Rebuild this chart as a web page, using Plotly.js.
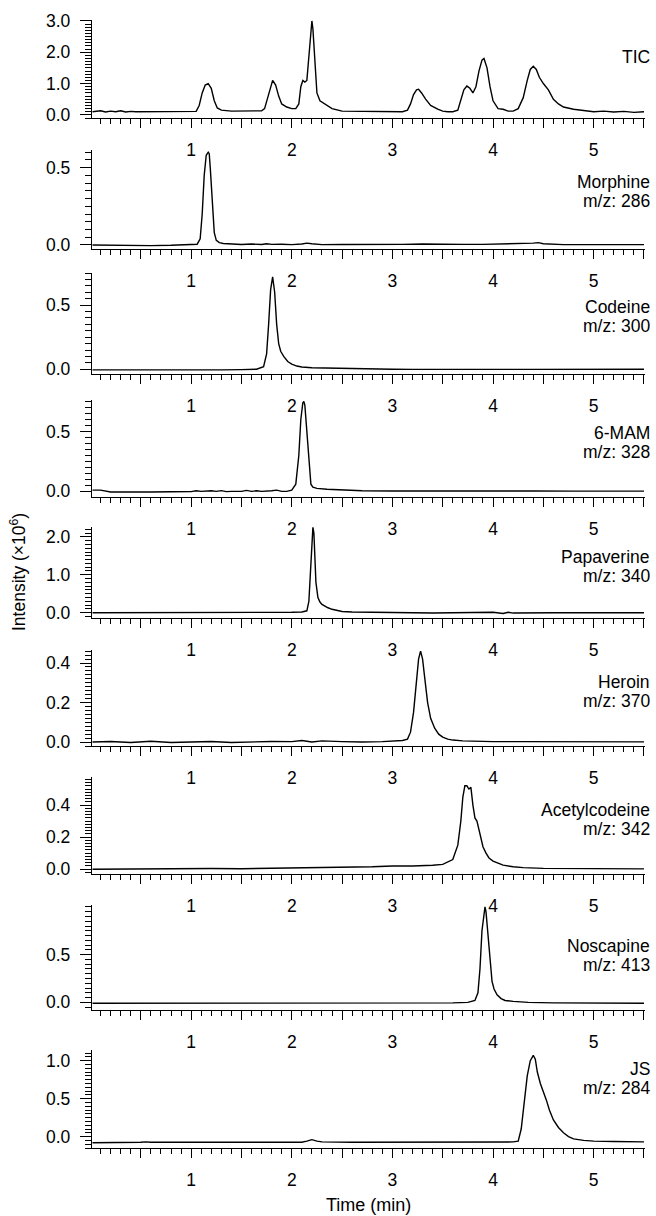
<!DOCTYPE html>
<html>
<head>
<meta charset="utf-8">
<script src="https://cdn.plot.ly/plotly-3.0.1.min.js"></script>
<style>
  html, body { margin: 0; padding: 0; background: #fff; }
  #chart { width: 656px; height: 1216px; }
</style>
</head>
<body>
<div id="chart"></div>
<script>
// Compound labels and monitored ions, top to bottom
const compounds = ["TIC", "Morphine", "Codeine", "6-MAM", "Papaverine", "Heroin", "Acetylcodeine", "Noscapine", "JS"];
const ions = ["", "m/z: 286", "m/z: 300", "m/z: 328", "m/z: 340", "m/z: 370", "m/z: 342", "m/z: 413", "m/z: 284"];

// Retention time (min) and intensity (x10^6) for each trace
const ticTime = [0.02,0.1,0.15,0.2,0.25,0.3,0.35,0.4,0.45,0.5,0.55,0.6,0.7,0.8,0.9,1.0,1.05,1.08,1.11,1.14,1.17,1.2,1.23,1.26,1.3,1.4,1.5,1.6,1.7,1.73,1.76,1.79,1.81,1.84,1.87,1.9,1.95,2.0,2.04,2.07,2.09,2.11,2.13,2.15,2.17,2.19,2.2,2.21,2.23,2.25,2.28,2.33,2.4,2.5,2.6,2.7,2.8,2.9,3.0,3.1,3.15,3.18,3.21,3.24,3.26,3.29,3.33,3.38,3.45,3.5,3.55,3.6,3.65,3.68,3.71,3.74,3.77,3.8,3.83,3.86,3.89,3.91,3.94,3.97,4.0,4.05,4.1,4.15,4.2,4.25,4.3,4.34,4.37,4.4,4.43,4.46,4.5,4.55,4.6,4.65,4.7,4.8,4.9,5.0,5.1,5.2,5.3,5.4,5.5];
const ticInt = [0.1,0.13,0.09,0.12,0.1,0.13,0.09,0.11,0.1,0.1,0.12,0.1,0.11,0.1,0.11,0.1,0.11,0.3,0.7,0.95,1.0,0.85,0.45,0.22,0.15,0.12,0.12,0.11,0.13,0.2,0.55,0.95,1.1,0.95,0.6,0.35,0.25,0.2,0.2,0.35,0.9,1.1,1.05,1.1,1.8,2.7,3.0,2.75,1.5,0.7,0.45,0.35,0.2,0.12,0.12,0.1,0.11,0.1,0.12,0.1,0.15,0.35,0.65,0.8,0.82,0.7,0.5,0.3,0.18,0.12,0.1,0.1,0.15,0.45,0.8,0.92,0.85,0.7,0.9,1.4,1.75,1.8,1.5,0.9,0.45,0.2,0.18,0.12,0.12,0.2,0.55,1.1,1.45,1.55,1.45,1.2,1.0,0.8,0.5,0.35,0.25,0.18,0.13,0.1,0.12,0.09,0.11,0.08,0.1];

const morTime = [0.02,0.2,0.4,0.6,0.8,1.0,1.06,1.09,1.11,1.13,1.15,1.17,1.18,1.19,1.21,1.23,1.25,1.28,1.32,1.4,1.5,1.6,1.7,1.75,1.8,1.9,2.0,2.1,2.15,2.2,2.3,2.5,2.7,2.9,3.1,3.3,3.5,3.7,3.9,4.1,4.3,4.4,4.45,4.5,4.7,5.0,5.5];
const morInt = [0.0,-0.002,-0.004,-0.004,-0.002,0.0,0.005,0.04,0.2,0.45,0.58,0.6,0.59,0.5,0.25,0.08,0.03,0.015,0.01,0.005,0.003,0.006,0.003,0.008,0.004,0.005,0.002,0.006,0.012,0.008,0.002,0.003,0.002,0.004,0.004,0.006,0.003,0.004,0.004,0.006,0.01,0.012,0.015,0.008,0.002,0.002,0.002];

const codTime = [0.02,0.3,0.6,0.9,1.1,1.3,1.5,1.65,1.72,1.75,1.77,1.79,1.81,1.83,1.85,1.87,1.89,1.92,1.96,2.0,2.05,2.1,2.2,2.4,2.6,2.8,3.0,3.2,3.4,3.6,3.8,4.0,4.2,4.4,4.6,4.8,5.0,5.2,5.5];
const codInt = [-0.005,-0.006,-0.004,-0.006,-0.004,-0.005,-0.003,0.0,0.02,0.12,0.35,0.62,0.72,0.6,0.35,0.2,0.14,0.1,0.06,0.04,0.025,0.018,0.012,0.008,0.005,0.002,0.0,-0.001,0.0,0.0,-0.002,0.0,-0.001,-0.001,0.0,-0.001,0.0,-0.001,0.0];

const mamTime = [0.02,0.1,0.2,0.4,0.6,0.8,1.0,1.05,1.1,1.2,1.25,1.3,1.35,1.4,1.5,1.55,1.6,1.65,1.7,1.8,1.85,1.9,1.95,2.0,2.04,2.07,2.09,2.11,2.12,2.13,2.15,2.17,2.19,2.21,2.25,2.35,2.5,2.7,3.0,3.3,3.6,4.0,4.4,4.8,5.2,5.5];
const mamInt = [0.01,0.01,-0.005,-0.008,-0.005,-0.003,-0.002,0.005,0.0,0.005,0.0,0.006,-0.002,0.0,0.0,0.008,0.0,0.005,0.0,0.005,0.01,0.0,0.0,0.01,0.06,0.3,0.6,0.74,0.75,0.72,0.5,0.2,0.06,0.035,0.025,0.018,0.01,0.005,0.003,0.004,0.002,0.004,0.003,0.002,0.001,0.002];

const papTime = [0.02,0.3,0.6,0.9,1.2,1.5,1.8,2.0,2.1,2.15,2.17,2.19,2.2,2.21,2.22,2.23,2.24,2.26,2.28,2.3,2.33,2.36,2.4,2.45,2.5,2.6,2.8,3.0,3.2,3.4,3.6,3.8,4.0,4.1,4.15,4.2,4.4,4.6,5.0,5.5];
const papInt = [0.0,0.0,0.0,0.005,0.0,0.0,0.01,0.01,0.02,0.05,0.3,1.2,1.9,2.25,2.1,1.5,0.8,0.4,0.28,0.22,0.17,0.13,0.09,0.05,0.03,0.02,0.01,0.0,0.0,-0.01,0.0,0.0,0.01,-0.02,0.01,-0.01,0.0,0.0,0.0,0.0];

const herTime = [0.02,0.2,0.4,0.6,0.8,1.0,1.2,1.4,1.6,1.8,2.0,2.1,2.2,2.3,2.5,2.7,2.9,3.0,3.1,3.15,3.18,3.21,3.24,3.26,3.28,3.3,3.32,3.35,3.38,3.42,3.46,3.5,3.55,3.6,3.7,3.8,4.0,4.3,4.6,5.0,5.3,5.5];
const herInt = [0.0,0.003,-0.002,0.004,-0.002,0.002,0.003,-0.002,0.002,0.003,0.002,0.008,0.0,0.006,0.002,0.0,0.002,0.004,0.008,0.015,0.05,0.15,0.32,0.42,0.46,0.42,0.33,0.2,0.12,0.07,0.04,0.025,0.015,0.01,0.006,0.004,0.002,0.002,0.001,0.001,0.001,0.001];

const aceTime = [0.02,0.3,0.6,0.9,1.2,1.5,1.8,2.0,2.2,2.5,2.8,3.0,3.2,3.4,3.5,3.6,3.65,3.68,3.7,3.72,3.74,3.76,3.78,3.8,3.82,3.84,3.86,3.88,3.9,3.93,3.96,4.0,4.05,4.1,4.2,4.3,4.5,4.8,5.1,5.5];
const aceInt = [0.0,0.002,0.0,0.002,0.004,0.003,0.005,0.008,0.01,0.012,0.015,0.02,0.02,0.025,0.03,0.06,0.15,0.3,0.45,0.52,0.52,0.5,0.51,0.4,0.32,0.3,0.24,0.18,0.14,0.1,0.07,0.05,0.035,0.025,0.015,0.01,0.005,0.003,0.002,0.002];

const nosTime = [0.02,0.3,0.6,0.9,1.2,1.5,1.8,2.1,2.4,2.7,3.0,3.3,3.6,3.75,3.82,3.85,3.87,3.89,3.91,3.92,3.93,3.95,3.97,3.99,4.01,4.04,4.08,4.12,4.2,4.35,4.6,5.0,5.5];
const nosInt = [-0.01,-0.01,-0.01,-0.01,-0.01,-0.01,-0.01,-0.01,-0.01,-0.01,-0.01,-0.01,-0.005,0.0,0.02,0.1,0.35,0.75,0.97,1.0,0.95,0.7,0.4,0.22,0.14,0.08,0.04,0.02,0.01,0.0,-0.005,-0.008,-0.01];

const jsTime = [0.02,0.3,0.5,0.55,0.6,0.8,1.0,1.25,1.3,1.35,1.6,1.9,2.1,2.15,2.2,2.25,2.3,2.6,3.0,3.5,4.0,4.15,4.2,4.25,4.28,4.31,4.34,4.37,4.4,4.42,4.44,4.47,4.5,4.53,4.56,4.6,4.65,4.7,4.75,4.8,4.9,5.0,5.2,5.5];
const jsInt = [-0.08,-0.08,-0.075,-0.07,-0.075,-0.075,-0.075,-0.075,-0.07,-0.075,-0.075,-0.075,-0.075,-0.06,-0.04,-0.06,-0.07,-0.075,-0.075,-0.075,-0.075,-0.07,-0.07,-0.06,0.1,0.45,0.8,1.0,1.07,1.02,0.85,0.7,0.6,0.48,0.35,0.22,0.12,0.05,0.0,-0.03,-0.05,-0.06,-0.065,-0.07];

const times = [ticTime, morTime, codTime, mamTime, papTime, herTime, aceTime, nosTime, jsTime];
const intensities = [ticInt, morInt, codInt, mamInt, papInt, herInt, aceInt, nosInt, jsInt];

// Axis tick labels
const yTickVals = [[0,1,2,3],[0,0.5],[0,0.5],[0,0.5],[0,1,2],[0,0.2,0.4],[0,0.2,0.4],[0,0.5],[0,0.5,1]];
const yMinorStep = [0.1,0.05,0.05,0.05,0.1,0.02,0.02,0.05,0.05];
const xTickVals = [0.5,1,1.5,2,2.5,3,3.5,4,4.5,5,5.5];
const xTickText = ["","1","","2","","3","","4","","5",""];

// Panel geometry in pixels (top of y axis, x-axis line) and value ranges
const W = 656, H = 1216;
const panelTop =    [20, 150, 273, 400, 527, 650, 777, 905, 1050];
const panelBottom = [118, 249, 374, 497, 618, 746, 874, 1010, 1148];
const yRanges = [[-0.1,3.03],[-0.026,0.614],[-0.037,0.75],[-0.047,0.763],[-0.14,2.26],[-0.02,0.466],[-0.03,0.575],[-0.08,1.02],[-0.15,1.14]];
const labelCenter = [57, 191, 316, 442, 566, 691, 819, 955, 1078];

const FONT = "Liberation Sans, Arial, Helvetica, sans-serif";
const FS = 17.5;
const xDomain = [92 / W, 645 / W];

const traces = [];
const layout = {
  width: W, height: H,
  margin: {l: 0, r: 0, t: 0, b: 0},
  paper_bgcolor: "#ffffff",
  plot_bgcolor: "rgba(0,0,0,0)",
  showlegend: false,
  font: {family: FONT, size: FS, color: "#000"},
  annotations: []
};

compounds.forEach((name, i) => {
  const k = i === 0 ? "" : String(i + 1);
  traces.push({
    type: "scatter", mode: "lines",
    x: times[i], y: intensities[i],
    xaxis: "x" + k, yaxis: "y" + k,
    line: {color: "#000", width: 1.4},
    hoverinfo: "skip"
  });
  layout["xaxis" + k] = {
    domain: xDomain, anchor: "y" + k,
    range: [0.015, 5.51],
    showgrid: false, zeroline: false,
    showline: true, linecolor: "#000", linewidth: 1.2,
    ticks: "outside", ticklen: 9, tickwidth: 1, tickcolor: "#000",
    tickmode: "array", tickvals: xTickVals, ticktext: xTickText,
    ticklabelstandoff: 7,
    tickfont: {family: FONT, size: FS, color: "#000"},
    minor: {ticks: "outside", ticklen: 5, tickwidth: 1, tickcolor: "#000", tickmode: "linear", tick0: 0, dtick: 0.1, showgrid: false}
  };
  layout["yaxis" + k] = {
    domain: [1 - panelBottom[i] / H, 1 - panelTop[i] / H],
    anchor: "x" + k,
    range: yRanges[i],
    showgrid: false, zeroline: false,
    showline: true, linecolor: "#000", linewidth: 1.2,
    ticks: "outside", ticklen: 11, tickwidth: 1, tickcolor: "#000",
    tickmode: "array", tickvals: yTickVals[i], tickformat: ".1f",
    ticklabelstandoff: 6,
    tickfont: {family: FONT, size: FS, color: "#000"},
    minor: {ticks: "outside", ticklen: 6, tickwidth: 1, tickcolor: "#000", tickmode: "linear", tick0: 0, dtick: yMinorStep[i], showgrid: false}
  };
  const base = {xref: "paper", yref: "paper", x: 652 / W, xanchor: "right", yanchor: "middle",
                showarrow: false, font: {family: FONT, size: FS, color: "#000"}};
  if (ions[i]) {
    layout.annotations.push(Object.assign({}, base, {text: name, y: 1 - (labelCenter[i] - 9) / H}));
    layout.annotations.push(Object.assign({}, base, {text: ions[i], y: 1 - (labelCenter[i] + 9.5) / H}));
  } else {
    layout.annotations.push(Object.assign({}, base, {text: name, y: 1 - labelCenter[i] / H}));
  }
});

// Shared axis titles
layout.annotations.push({
  xref: "paper", yref: "paper", x: 18 / W, y: 1 - 572 / H,
  xanchor: "center", yanchor: "middle", textangle: -90, showarrow: false,
  text: "Intensity (×10<sup>6</sup>)", font: {family: FONT, size: 17.5, color: "#000"}
});
layout.annotations.push({
  xref: "paper", yref: "paper", x: 368 / W, y: 1 - 1205 / H,
  xanchor: "center", yanchor: "middle", showarrow: false,
  text: "Time (min)", font: {family: FONT, size: 18, color: "#000"}
});

Plotly.newPlot("chart", traces, layout, {displayModeBar: false, staticPlot: true});
</script>
</body>
</html>
